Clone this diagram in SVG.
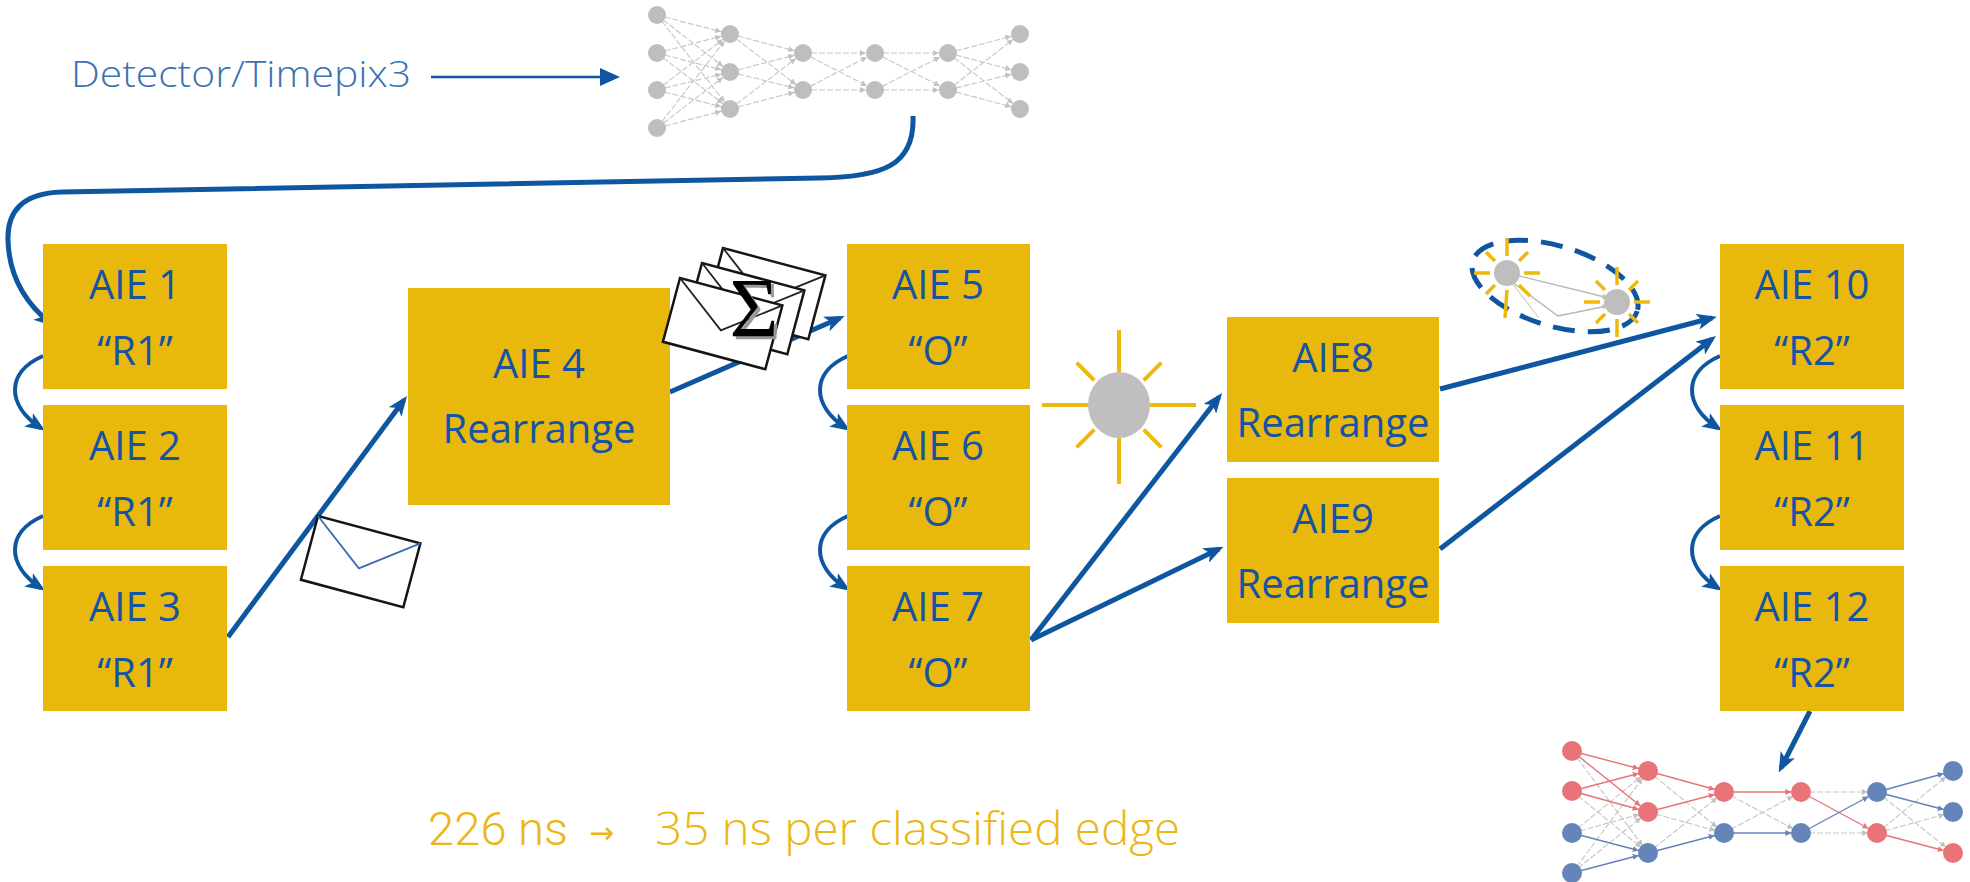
<svg xmlns="http://www.w3.org/2000/svg" width="1970" height="882" viewBox="0 0 1970 882">
  <style>
    .box { fill: #E8B80C; }
    .lbl { font-family: "Open Sans", "Noto Sans", sans-serif; font-size: 40px; fill: #1553A3; text-anchor: middle; }
    .conn { fill: none; stroke: #0F56A0; stroke-width: 5; marker-end: url(#ah); }
    .loop { fill: none; stroke: #0F56A0; stroke-width: 4; marker-end: url(#ah); }
    .ge { stroke: #c9c9c9; stroke-width: 1.2; stroke-dasharray: 6 2; marker-end: url(#mg); }
    .re { stroke: #E8747A; stroke-width: 1.4; marker-end: url(#mr); }
    .be { stroke: #6584B9; stroke-width: 1.4; marker-end: url(#mb); }
    .gn { fill: #BEBEBE; }
    .rn { fill: #E8747A; }
    .bn { fill: #6584B9; }
    .ray { stroke: #EDB90F; stroke-width: 4; }
    .ray2 { stroke: #EDB90F; stroke-width: 3.5; }
  </style>
  <defs>
    <marker id="ah" viewBox="0 0 20 16" refX="15" refY="8" markerWidth="20" markerHeight="16" markerUnits="userSpaceOnUse" orient="auto">
      <path d="M0,0 L20,8 L0,16 L5,8 Z" fill="#0F56A0"/>
    </marker>
    <marker id="mg" viewBox="0 0 10 10" refX="25" refY="5" markerWidth="6" markerHeight="6" markerUnits="userSpaceOnUse" orient="auto">
      <path d="M0,0 L10,5 L0,10 Z" fill="#c2c2c2"/>
    </marker>
    <marker id="mr" viewBox="0 0 10 10" refX="26" refY="5" markerWidth="6" markerHeight="6" markerUnits="userSpaceOnUse" orient="auto">
      <path d="M0,0 L10,5 L0,10 Z" fill="#E8747A"/>
    </marker>
    <marker id="mb" viewBox="0 0 10 10" refX="26" refY="5" markerWidth="6" markerHeight="6" markerUnits="userSpaceOnUse" orient="auto">
      <path d="M0,0 L10,5 L0,10 Z" fill="#6584B9"/>
    </marker>
    <g id="env">
      <rect x="0" y="0" width="106" height="66" fill="#fff" stroke="#151515" stroke-width="2.5"/>
      <path d="M0,0 L53,40 L106,0" fill="none" stroke="currentColor" stroke-width="1.8"/>
    </g>
    <path id="loopPath" d="M43,356 C6,372 6,405 41,428"/>
  </defs>

  <!-- detector input -->
  <g id="detector">
    <text x="71" y="87" font-family="'Open Sans', sans-serif" font-weight="300" font-size="37" fill="#3A72B2" textLength="340" lengthAdjust="spacingAndGlyphs">Detector/Timepix3</text>
    <line x1="431" y1="77" x2="602" y2="77" stroke="#0F56A0" stroke-width="2.5"/>
    <path d="M600,68 L620,77 L600,86 Z" fill="#0F56A0"/>
  </g>

  <!-- input graph (grey) -->
  <g id="graph-in">
    <g>
      <line class="ge" x1="657" y1="15" x2="730" y2="34"/><line class="ge" x1="657" y1="15" x2="730" y2="72"/><line class="ge" x1="657" y1="15" x2="730" y2="109"/>
      <line class="ge" x1="657" y1="53" x2="730" y2="34"/><line class="ge" x1="657" y1="53" x2="730" y2="72"/><line class="ge" x1="657" y1="53" x2="730" y2="109"/>
      <line class="ge" x1="657" y1="90" x2="730" y2="34"/><line class="ge" x1="657" y1="90" x2="730" y2="72"/><line class="ge" x1="657" y1="90" x2="730" y2="109"/>
      <line class="ge" x1="657" y1="128" x2="730" y2="34"/><line class="ge" x1="657" y1="128" x2="730" y2="72"/><line class="ge" x1="657" y1="128" x2="730" y2="109"/>
      <line class="ge" x1="730" y1="34" x2="803" y2="53"/><line class="ge" x1="730" y1="34" x2="803" y2="90"/>
      <line class="ge" x1="730" y1="72" x2="803" y2="53"/><line class="ge" x1="730" y1="72" x2="803" y2="90"/>
      <line class="ge" x1="730" y1="109" x2="803" y2="53"/><line class="ge" x1="730" y1="109" x2="803" y2="90"/>
      <line class="ge" x1="803" y1="53" x2="875" y2="53"/><line class="ge" x1="803" y1="53" x2="875" y2="90"/>
      <line class="ge" x1="803" y1="90" x2="875" y2="53"/><line class="ge" x1="803" y1="90" x2="875" y2="90"/>
      <line class="ge" x1="875" y1="53" x2="948" y2="53"/><line class="ge" x1="875" y1="53" x2="948" y2="90"/>
      <line class="ge" x1="875" y1="90" x2="948" y2="53"/><line class="ge" x1="875" y1="90" x2="948" y2="90"/>
      <line class="ge" x1="948" y1="53" x2="1020" y2="34"/><line class="ge" x1="948" y1="53" x2="1020" y2="72"/><line class="ge" x1="948" y1="53" x2="1020" y2="109"/>
      <line class="ge" x1="948" y1="90" x2="1020" y2="34"/><line class="ge" x1="948" y1="90" x2="1020" y2="72"/><line class="ge" x1="948" y1="90" x2="1020" y2="109"/>
    </g>
    <g class="gn">
      <circle cx="657" cy="15" r="9"/><circle cx="657" cy="53" r="9"/><circle cx="657" cy="90" r="9"/><circle cx="657" cy="128" r="9"/>
      <circle cx="730" cy="34" r="9"/><circle cx="730" cy="72" r="9"/><circle cx="730" cy="109" r="9"/>
      <circle cx="803" cy="53" r="9"/><circle cx="803" cy="90" r="9"/>
      <circle cx="875" cy="53" r="9"/><circle cx="875" cy="90" r="9"/>
      <circle cx="948" cy="53" r="9"/><circle cx="948" cy="90" r="9"/>
      <circle cx="1020" cy="34" r="9"/><circle cx="1020" cy="72" r="9"/><circle cx="1020" cy="109" r="9"/>
    </g>
  </g>

  <!-- connectors -->
  <g id="connectors">
    <path class="conn" d="M913,116 C915,166 882,177 820,178 L62,192 C22,193 7,212 8,240 C9,280 28,305 50,323"/>
    <use href="#loopPath" class="loop"/>
    <use href="#loopPath" class="loop" transform="translate(0,160)"/>
    <use href="#loopPath" class="loop" transform="translate(805,0)"/>
    <use href="#loopPath" class="loop" transform="translate(805,160)"/>
    <use href="#loopPath" class="loop" transform="translate(1677,0)"/>
    <use href="#loopPath" class="loop" transform="translate(1677,160)"/>
    <path class="conn" d="M228,637 L404,400"/>
    <path class="conn" d="M670,392 L840,318"/>
    <path class="conn" d="M1031,640 L1219,397"/>
    <path class="conn" d="M1031,640 L1219,549"/>
    <path class="conn" d="M1440,389 L1712,318"/>
    <path class="conn" d="M1440,549 L1712,339"/>
    <path class="conn" d="M1810,711 L1781,768"/>
  </g>

  <!-- processing tiles -->
  <g id="aie1"><rect class="box" x="43" y="244" width="184" height="145"/><text class="lbl" x="135" y="299">AIE 1</text><text class="lbl" x="135" y="365">“R1”</text></g>
  <g id="aie2"><rect class="box" x="43" y="405" width="184" height="145"/><text class="lbl" x="135" y="460">AIE 2</text><text class="lbl" x="135" y="526">“R1”</text></g>
  <g id="aie3"><rect class="box" x="43" y="566" width="184" height="145"/><text class="lbl" x="135" y="621">AIE 3</text><text class="lbl" x="135" y="687">“R1”</text></g>
  <g id="aie4"><rect class="box" x="408" y="288" width="262" height="217"/><text class="lbl" x="539" y="378">AIE 4</text><text class="lbl" x="539" y="443">Rearrange</text></g>
  <g id="aie5"><rect class="box" x="847" y="244" width="183" height="145"/><text class="lbl" x="938" y="299">AIE 5</text><text class="lbl" x="938" y="365">“O”</text></g>
  <g id="aie6"><rect class="box" x="847" y="405" width="183" height="145"/><text class="lbl" x="938" y="460">AIE 6</text><text class="lbl" x="938" y="526">“O”</text></g>
  <g id="aie7"><rect class="box" x="847" y="566" width="183" height="145"/><text class="lbl" x="938" y="621">AIE 7</text><text class="lbl" x="938" y="687">“O”</text></g>
  <g id="aie8"><rect class="box" x="1227" y="317" width="212" height="145"/><text class="lbl" x="1333" y="372">AIE8</text><text class="lbl" x="1333" y="437">Rearrange</text></g>
  <g id="aie9"><rect class="box" x="1227" y="478" width="212" height="145"/><text class="lbl" x="1333" y="533">AIE9</text><text class="lbl" x="1333" y="598">Rearrange</text></g>
  <g id="aie10"><rect class="box" x="1720" y="244" width="184" height="145"/><text class="lbl" x="1812" y="299">AIE 10</text><text class="lbl" x="1812" y="365">“R2”</text></g>
  <g id="aie11"><rect class="box" x="1720" y="405" width="184" height="145"/><text class="lbl" x="1812" y="460">AIE 11</text><text class="lbl" x="1812" y="526">“R2”</text></g>
  <g id="aie12"><rect class="box" x="1720" y="566" width="184" height="145"/><text class="lbl" x="1812" y="621">AIE 12</text><text class="lbl" x="1812" y="687">“R2”</text></g>

  <!-- single message -->
  <g id="message">
    <use href="#env" color="#3A6DB0" transform="translate(318,516) rotate(15)"/>
  </g>

  <!-- summed messages -->
  <g id="message-stack">
    <use href="#env" color="#222" transform="translate(723,248) rotate(15)"/>
    <use href="#env" color="#222" transform="translate(702,263) rotate(15)"/>
    <use href="#env" color="#222" transform="translate(680,278) rotate(15)"/>
    <text x="757" y="340" font-family="'Liberation Serif', serif" font-size="84" fill="#9a9a9a" text-anchor="middle">Σ</text>
    <text x="754" y="337" font-family="'Liberation Serif', serif" font-size="84" fill="#000" text-anchor="middle">Σ</text>
  </g>

  <!-- highlighted node -->
  <g id="hit">
    <line class="ray" x1="1042" y1="405" x2="1088" y2="405"/>
    <line class="ray" x1="1150" y1="405" x2="1196" y2="405"/>
    <line class="ray" x1="1119" y1="330" x2="1119" y2="372"/>
    <line class="ray" x1="1119" y1="438" x2="1119" y2="484"/>
    <line class="ray" x1="1076.6" y1="362.6" x2="1094.3" y2="380.3"/>
    <line class="ray" x1="1143.7" y1="380.3" x2="1161.4" y2="362.6"/>
    <line class="ray" x1="1076.6" y1="447.4" x2="1094.3" y2="429.7"/>
    <line class="ray" x1="1143.7" y1="429.7" x2="1161.4" y2="447.4"/>
    <ellipse cx="1119" cy="405" rx="31" ry="33" fill="#BFBFBF"/>
  </g>

  <!-- edge candidate -->
  <g id="edge-pair">
    <ellipse cx="1555" cy="286" rx="86" ry="40" transform="rotate(17 1555 286)" fill="none" stroke="#0F56A0" stroke-width="5" stroke-dasharray="22 13"/>
    <line x1="1507" y1="273" x2="1617" y2="300" stroke="#b5b5b5" stroke-width="1.3" marker-end="url(#mg)"/>
    <polyline points="1512,282 1558,316 1617,304" fill="none" stroke="#b5b5b5" stroke-width="1.3" marker-end="url(#mg)"/>
    <line x1="1512" y1="283" x2="1539" y2="318" stroke="#cfcfcf" stroke-width="1.2"/>
    <g class="ray2">
      <line x1="1474" y1="273" x2="1490" y2="273"/><line x1="1524" y1="273" x2="1540" y2="273"/>
      <line x1="1507" y1="238" x2="1507" y2="256"/><line x1="1507" y1="290" x2="1505" y2="318"/>
      <line x1="1486" y1="252" x2="1495" y2="261"/><line x1="1519" y1="261" x2="1528" y2="252"/>
      <line x1="1486" y1="294" x2="1495" y2="285"/><line x1="1519" y1="285" x2="1530" y2="296"/>
      <line x1="1584" y1="302" x2="1600" y2="302"/><line x1="1634" y1="302" x2="1650" y2="302"/>
      <line x1="1617" y1="267" x2="1617" y2="285"/><line x1="1617" y1="319" x2="1617" y2="337"/>
      <line x1="1596" y1="281" x2="1605" y2="290"/><line x1="1629" y1="290" x2="1638" y2="281"/>
      <line x1="1596" y1="323" x2="1605" y2="314"/><line x1="1629" y1="314" x2="1638" y2="323"/>
    </g>
    <circle class="gn" cx="1507" cy="273" r="13"/>
    <circle class="gn" cx="1617" cy="302" r="13"/>
  </g>

  <!-- classified graph -->
  <g id="graph-out">
    <g>
      <line class="ge" x1="1572" y1="751" x2="1648" y2="853"/>
      <line class="ge" x1="1572" y1="791" x2="1648" y2="853"/>
      <line class="ge" x1="1572" y1="833" x2="1648" y2="771"/><line class="ge" x1="1572" y1="833" x2="1648" y2="812"/>
      <line class="ge" x1="1572" y1="873" x2="1648" y2="771"/><line class="ge" x1="1572" y1="873" x2="1648" y2="812"/>
      <line class="ge" x1="1648" y1="771" x2="1724" y2="833"/><line class="ge" x1="1648" y1="812" x2="1724" y2="833"/>
      <line class="ge" x1="1648" y1="853" x2="1724" y2="792"/>
      <line class="ge" x1="1724" y1="792" x2="1801" y2="833"/><line class="ge" x1="1724" y1="833" x2="1801" y2="792"/>
      <line class="ge" x1="1801" y1="792" x2="1877" y2="792"/><line class="ge" x1="1801" y1="833" x2="1877" y2="833"/>
      <line class="ge" x1="1877" y1="792" x2="1953" y2="853"/>
      <line class="ge" x1="1877" y1="833" x2="1953" y2="771"/><line class="ge" x1="1877" y1="833" x2="1953" y2="812"/>
    </g>
    <g>
      <line class="re" x1="1572" y1="751" x2="1648" y2="771"/><line class="re" x1="1572" y1="751" x2="1648" y2="812"/>
      <line class="re" x1="1572" y1="791" x2="1648" y2="771"/><line class="re" x1="1572" y1="791" x2="1648" y2="812"/>
      <line class="re" x1="1648" y1="771" x2="1724" y2="792"/><line class="re" x1="1648" y1="812" x2="1724" y2="792"/>
      <line class="re" x1="1724" y1="792" x2="1801" y2="792"/>
      <line class="re" x1="1801" y1="792" x2="1877" y2="833"/>
      <line class="re" x1="1877" y1="833" x2="1953" y2="853"/>
      <line class="be" x1="1572" y1="833" x2="1648" y2="853"/><line class="be" x1="1572" y1="873" x2="1648" y2="853"/>
      <line class="be" x1="1648" y1="853" x2="1724" y2="833"/>
      <line class="be" x1="1724" y1="833" x2="1801" y2="833"/>
      <line class="be" x1="1801" y1="833" x2="1877" y2="792"/>
      <line class="be" x1="1877" y1="792" x2="1953" y2="771"/><line class="be" x1="1877" y1="792" x2="1953" y2="812"/>
    </g>
    <circle class="rn" cx="1572" cy="751" r="10"/><circle class="rn" cx="1572" cy="791" r="10"/>
    <circle class="bn" cx="1572" cy="833" r="10"/><circle class="bn" cx="1572" cy="873" r="10"/>
    <circle class="rn" cx="1648" cy="771" r="10"/><circle class="rn" cx="1648" cy="812" r="10"/><circle class="bn" cx="1648" cy="853" r="10"/>
    <circle class="rn" cx="1724" cy="792" r="10"/><circle class="bn" cx="1724" cy="833" r="10"/>
    <circle class="rn" cx="1801" cy="792" r="10"/><circle class="bn" cx="1801" cy="833" r="10"/>
    <circle class="bn" cx="1877" cy="792" r="10"/><circle class="rn" cx="1877" cy="833" r="10"/>
    <circle class="bn" cx="1953" cy="771" r="10"/><circle class="bn" cx="1953" cy="812" r="10"/><circle class="rn" cx="1953" cy="853" r="10"/>
  </g>

  <!-- timing -->
  <g id="timing" fill="#EAB714">
    <text x="428" y="845" font-family="Roboto, sans-serif" font-weight="300" font-size="46" textLength="140" lengthAdjust="spacingAndGlyphs">226 ns</text>
    <text x="589" y="843" font-family="'DejaVu Sans', sans-serif" font-size="30">→</text>
    <text x="655" y="845" font-family="'Open Sans', sans-serif" font-weight="300" font-size="46" textLength="525" lengthAdjust="spacingAndGlyphs">35 ns per classified edge</text>
  </g>
</svg>
